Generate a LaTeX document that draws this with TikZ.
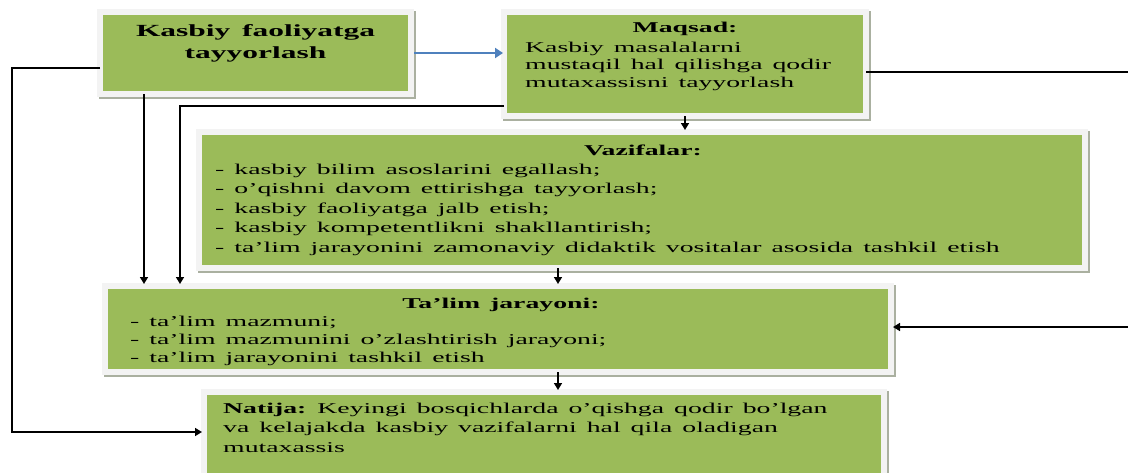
\documentclass[tikz,border=0pt]{standalone}
\usepackage{fontspec}
\setmainfont{Liberation Serif}[FakeStretch=1.85]
\usetikzlibrary{arrows.meta}
\definecolor{boxgreen}{RGB}{155,187,89}
\definecolor{framec}{RGB}{243,243,243}
\definecolor{shadowc}{RGB}{170,176,160}
\definecolor{bluearrow}{RGB}{79,129,189}
\newcommand{\wsp}{\spaceskip=10pt plus 2pt minus 2pt\xspaceskip=11pt\relax}
\tikzset{
  box/.style={rectangle, inner sep=0pt, outer sep=0pt, anchor=north west,
    fill=boxgreen, draw=framec, line width=6pt,
    preaction={draw=shadowc, line width=6pt, transform canvas={xshift=2pt,yshift=-2pt}}},
  txt/.style={inner sep=0pt, font=\fontsize{15}{19.5}\selectfont, align=left, anchor=base west, execute at begin node=\wsp},
  hd/.style={inner sep=0pt, font=\bfseries\fontsize{15}{18}\selectfont, anchor=base, execute at begin node=\wsp},
  bigtitle/.style={inner sep=0pt, font=\bfseries\fontsize{17}{22}\selectfont, align=center, anchor=base, text width=300pt, execute at begin node=\wsp},
  conn/.style={draw=black, line width=1.6pt, shorten >=2pt, -{Triangle[length=7pt,width=8pt]}},
  plain/.style={draw=black, line width=1.6pt},
  blueconn/.style={draw=bluearrow, line width=2.2pt, shorten >=1pt, -{Triangle[length=8pt,width=10pt]}}
}
\begin{document}
\begin{tikzpicture}[x=1pt,y=-1pt]
\clip (0,0) rectangle (1128,472);
\fill[white] (0,0) rectangle (1128,472);
% boxes
\node[box, minimum width=311pt, minimum height=82pt] (A) at (100,12) {};
\node[box, minimum width=362pt, minimum height=104pt] (B) at (504,12) {};
\node[box, minimum width=886pt, minimum height=136pt] (C) at (199,132) {};
\node[box, minimum width=786pt, minimum height=86pt] (D) at (105,286) {};
\node[box, minimum width=680pt, minimum height=110pt] (E) at (204,392) {};
% texts
\node[bigtitle] (At) at (255.5,36) {Kasbiy faoliyatga\\tayyorlash};
\node[hd] (Bh) at (685,32) {Maqsad:};
\node[txt, text width=350pt, font=\fontsize{15}{17.5}\selectfont] (Bt) at (525,52)
  {Kasbiy masalalarni\\mustaqil hal qilishga qodir\\mutaxassisni tayyorlash};
\node[hd] (Ch) at (643,155) {Vazifalar:};
\node[txt, text width=866pt] (Ct) at (215,174)
  {- kasbiy bilim asoslarini egallash;\\- o’qishni davom ettirishga tayyorlash;\\- kasbiy faoliyatga jalb etish;\\- kasbiy kompetentlikni shakllantirish;\\- ta’lim jarayonini zamonaviy didaktik vositalar asosida tashkil etish};
\node[hd] (Dh) at (501,308) {Ta’lim jarayoni:};
\node[txt, text width=750pt, font=\fontsize{15}{18}\selectfont] (Dt) at (130,326)
  {- ta’lim mazmuni;\\- ta’lim mazmunini o’zlashtirish jarayoni;\\- ta’lim jarayonini tashkil etish};
\node[txt, text width=660pt] (Et) at (223,413)
  {\textbf{Natija:} Keyingi bosqichlarda o’qishga qodir bo’lgan\\va kelajakda kasbiy vazifalarni hal qila oladigan\\mutaxassis};
% helper coordinates
\coordinate (L1) at (12,432);
\coordinate (ax) at (144,0);
\coordinate (bx) at (180,0);
\coordinate (mx) at (558,0);
\coordinate (R1) at (1128,72);
\coordinate (R2) at (1128,327);
% connectors
\draw[blueconn] ([xshift=3pt]A.east) -- (A.east -| B.west);
\draw[conn] ([yshift=-15pt]A.west) -| (L1) -- (L1 -| E.west);
\draw[conn] (A.south -| ax) -- (D.north -| ax);
\draw[conn] ([yshift=-42pt]B.west) -| (D.north -| bx);
\draw[conn] (B.south) -- (B.south |- C.north);
\draw[conn] (C.south -| mx) -- (D.north -| mx);
\draw[conn] (D.south -| mx) -- (E.north -| mx);
\draw[plain] ([yshift=-8pt]B.east) -- (R1);
\draw[conn] (R2) -- (R2 -| D.east);
\end{tikzpicture}
\end{document}
